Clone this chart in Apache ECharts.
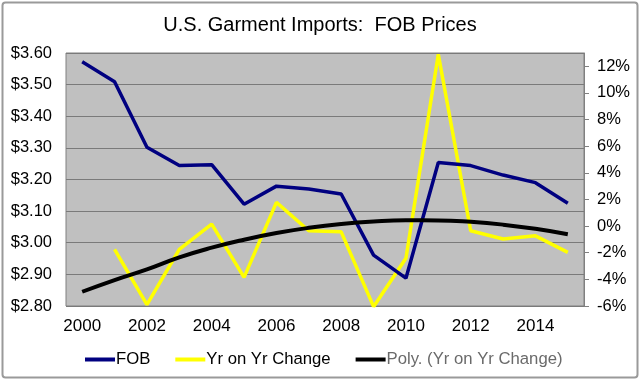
<!DOCTYPE html>
<html>
<head>
<meta charset="utf-8">
<script src="https://cdn.jsdelivr.net/npm/echarts@6/dist/echarts.min.js"></script>
<style>
html,body{margin:0;padding:0;background:#fff;}
#c{width:640px;height:380px;}
</style>
</head>
<body>
<div id="c"></div>
<script>
var years = ['2000','2001','2002','2003','2004','2005','2006','2007','2008','2009','2010','2011','2012','2013','2014','2015'];
var fob = [3.572, 3.509, 3.302, 3.244, 3.247, 3.122, 3.179, 3.170, 3.154, 2.961, 2.888, 3.254, 3.244, 3.214, 3.190, 3.125];
var yoy = [null, -1.75, -5.9, -1.75, 0.15, -3.85, 1.78, -0.35, -0.43, -6.05, -2.42, 12.9, -0.35, -0.97, -0.73, -1.97];
var poly = [-4.93, -4.05, -3.25, -2.35, -1.62, -1.02, -0.52, -0.13, 0.16, 0.35, 0.44, 0.43, 0.32, 0.11, -0.2, -0.61];
var leftTicks = {min: 2.8, max: 3.6, step: 0.1};
var rightTicks = {min: -6, max: 13, step: 2};

var FONT = '"Liberation Sans", Arial, sans-serif';
var chart = echarts.init(document.getElementById('c'), null, {renderer: 'canvas'});
chart.setOption({
  backgroundColor: '#ffffff',
  animation: false,
  graphic: [{
    type: 'rect', silent: true, z: 100,
    shape: {x: 2.5, y: 2.5, width: 635, height: 375, r: 3},
    style: {fill: 'none', stroke: '#9a9a9a', lineWidth: 2}
  }],
  title: {
    text: 'U.S. Garment Imports:  FOB Prices',
    left: 'center', top: 10,
    textStyle: {fontFamily: FONT, fontSize: 20, fontWeight: 'normal', color: '#000'}
  },
  legend: {
    left: 80, top: 346,
    itemWidth: 30, itemHeight: 4, itemGap: 25,
    icon: 'rect',
    textStyle: {fontFamily: FONT, fontSize: 16.7, color: '#000', padding: [0, 0, 0, -4]},
    data: [
      {name: 'FOB'},
      {name: 'Yr on Yr Change'},
      {name: 'Poly. (Yr on Yr Change)', textStyle: {color: '#6a6a6a'}}
    ]
  },
  grid: {
    left: 66, right: 56, top: 53, bottom: 74,
    show: true, backgroundColor: '#c0c0c0', borderColor: '#808080', borderWidth: 1
  },
  xAxis: {
    type: 'category', data: years, boundaryGap: true,
    axisLine: {show: false}, axisTick: {show: false},
    axisLabel: {interval: 1, fontFamily: FONT, fontSize: 17, color: '#000', margin: 12},
    splitLine: {show: false}
  },
  yAxis: [{
    type: 'value', min: leftTicks.min, max: leftTicks.max, interval: leftTicks.step,
    axisLine: {show: false}, axisTick: {show: false},
    axisLabel: {fontFamily: FONT, fontSize: 16.5, color: '#000', margin: 14,
      formatter: function (v) { return '$' + v.toFixed(2); }},
    splitLine: {show: true, lineStyle: {color: '#7a7a7a', width: 1}}
  }, {
    type: 'value', position: 'right', min: rightTicks.min, max: rightTicks.max, interval: rightTicks.step,
    axisLine: {show: true, lineStyle: {color: '#808080'}},
    axisTick: {show: true, length: 5, lineStyle: {color: '#808080'}},
    axisLabel: {fontFamily: FONT, fontSize: 16.5, color: '#000', margin: 13, showMaxLabel: false,
      formatter: function (v) { return Math.round(v) + '%'; }},
    splitLine: {show: false}
  }],
  series: [{
    name: 'FOB', type: 'line', yAxisIndex: 0, data: fob,
    symbol: 'none', lineStyle: {color: '#000080', width: 3.5}, itemStyle: {color: '#000080'}, z: 3
  }, {
    name: 'Yr on Yr Change', type: 'line', yAxisIndex: 1, data: yoy,
    symbol: 'none', lineStyle: {color: '#ffff00', width: 3.5}, itemStyle: {color: '#ffff00'}, z: 2
  }, {
    name: 'Poly. (Yr on Yr Change)', type: 'line', yAxisIndex: 1, data: poly, smooth: true,
    symbol: 'none', lineStyle: {color: '#000000', width: 4}, itemStyle: {color: '#000000'}, z: 4
  }]
});
</script>
</body>
</html>
